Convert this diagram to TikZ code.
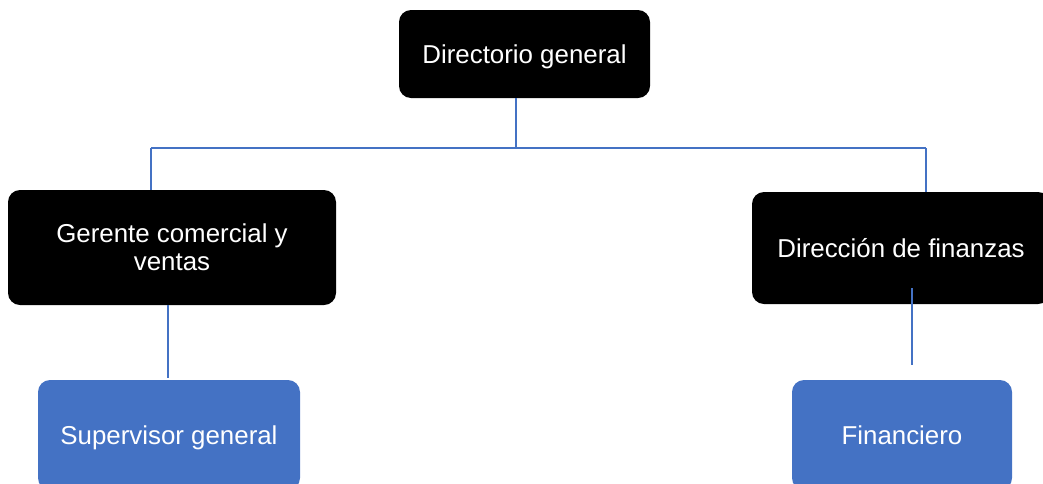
\documentclass[tikz,border=0pt]{standalone}
\usepackage{fontspec}
\setmainfont{Liberation Sans}
\definecolor{orgblue}{HTML}{4472C4}

\begin{document}
\begin{tikzpicture}[x=0.75pt,y=-0.75pt,
	caja/.style={rectangle,rounded corners=9pt,fill=black,text=white,align=center,inner sep=0pt,font=\fontsize{19.4}{21}\selectfont},
	cajaazul/.style={caja,fill=orgblue},
	unalinea/.style={text height=14pt,text depth=0pt},
	linea/.style={draw=orgblue,line width=0.8pt}]
	\useasboundingbox (0,0) rectangle (1043,483);
	\clip (0,0) rectangle (1043,483);
	\node[caja,unalinea,minimum width=188.25pt,minimum height=66pt] (dirgen) at (524.5,54) {Directorio general};
	\node[caja,minimum width=246pt,minimum height=86.25pt] (gerente) at (172,247.5) {Gerente comercial y\\ventas};
	\node[caja,unalinea,minimum width=223.5pt,minimum height=84pt] (dirfin) at (901,248) {Dirección de finanzas};
	\node[cajaazul,unalinea,minimum width=196.5pt,minimum height=82.5pt] (superv) at (169,435) {Supervisor general};
	\node[cajaazul,unalinea,minimum width=165pt,minimum height=82.5pt] (financ) at (902,435) {Financiero};
	\coordinate (barra) at (516,148);
	\coordinate (barraL) at (151,148);
	\coordinate (barraR) at (926,148);
	\coordinate (bajaL) at (168,378);
	\coordinate (altaR) at (912,288);
	\coordinate (bajaR) at (912,365);
	\draw[linea] (dirgen.south -| barra) -- (barra);
	\draw[linea] (barraL) -- (barraR);
	\draw[linea] (barraL) -- (barraL |- gerente.north);
	\draw[linea] (barraR) -- (barraR |- dirfin.north);
	\draw[linea] (bajaL |- gerente.south) -- (bajaL);
	\draw[linea] (altaR) -- (bajaR);
\end{tikzpicture}
\end{document}
